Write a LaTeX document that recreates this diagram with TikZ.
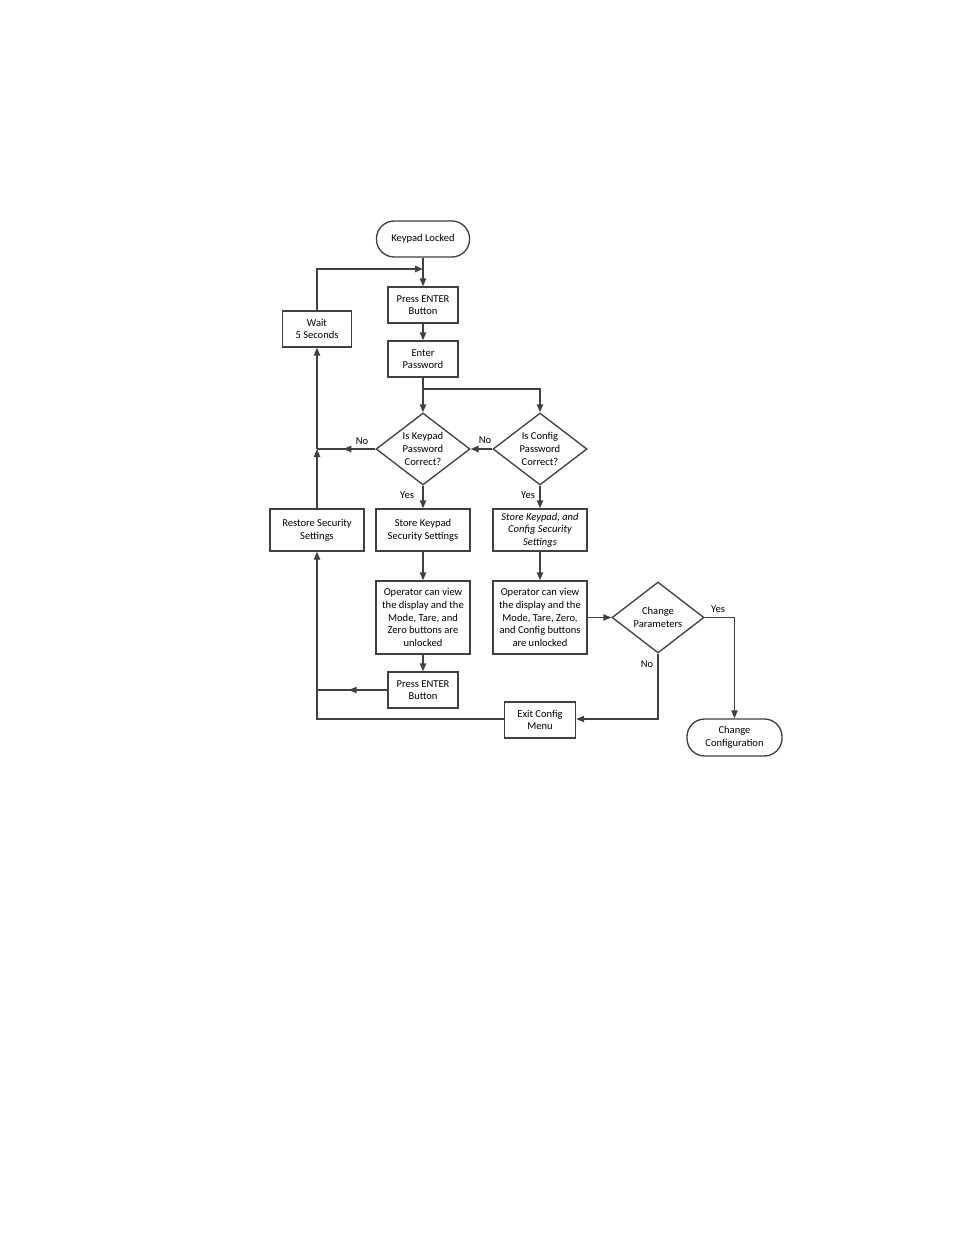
\documentclass[tikz,border=0pt]{standalone}
\usepackage{fontspec}
\setmainfont{Carlito}
\usetikzlibrary{shapes.geometric,arrows.meta,calc,decorations.markings}

\begin{document}
\begin{tikzpicture}[
    x=0.3mm, y=-0.3mm,
    font=\fontsize{9}{10.8}\selectfont,
    >={Triangle[length=2.4mm, width=1.9mm]},
    line/.style={draw=black!75, line width=0.4mm},
    midarrow/.style={line, postaction={decorate}, decoration={markings, mark=at position 0.55 with {\arrow{>}}}},
    term/.style={rectangle, draw=black!75, rounded corners=5.3mm, line width=0.4mm, inner sep=0pt, align=center},
    proc/.style={rectangle, draw=black!75, line width=0.4mm, inner sep=0pt, align=center, minimum width=70*0.3mm, minimum height=36*0.3mm},
    wide/.style={proc, minimum width=94*0.3mm},
    decision/.style={diamond, draw=black!75, line width=0.4mm, inner sep=0pt, align=center, shape aspect=1.3},
    lbl/.style={inner sep=1pt}
]
\useasboundingbox (0,0) rectangle (954,1235);

% Top of the chart
\node[term, minimum width=93*0.3mm, minimum height=36*0.3mm] (locked) at (423,239) {Keypad Locked};
\node[proc] (press1) at (423,305) {Press ENTER\\ Button};
\node[proc] (pwd) at (423,359) {Enter\\ Password};
\node[proc, minimum width=69*0.3mm] (wait) at (317,329) {Wait\\ 5 Seconds};

% Password checks
\node[decision, minimum width=94*0.3mm, minimum height=72*0.3mm] (kpq) at (423,449) {Is Keypad\\ Password\\ Correct?};
\node[decision, minimum width=94*0.3mm, minimum height=72*0.3mm] (cfq) at (540,449) {Is Config\\ Password\\ Correct?};

% Settings row
\node[wide, minimum height=42*0.3mm] (restore) at (317,530) {Restore Security\\ Settings};
\node[wide, minimum height=42*0.3mm] (storekp) at (423,530) {Store Keypad\\ Security Settings};
\node[wide, minimum height=42*0.3mm, font=\fontsize{9}{10.8}\selectfont\itshape] (storecf) at (540,530) {Store Keypad, and\\ Config Security\\ Settings};

% Unlocked states
\node[wide, minimum height=73*0.3mm] (opkp) at (423,617.5) {Operator can view\\ the display and the\\ Mode, Tare, and\\ Zero buttons are\\ unlocked};
\node[wide, minimum height=73*0.3mm] (opcf) at (540,617.5) {Operator can view\\ the display and the\\ Mode, Tare, Zero,\\ and Config buttons\\ are unlocked};
\node[decision, minimum width=92*0.3mm, minimum height=71*0.3mm] (chpq) at (658,617.5) {Change\\ Parameters};

% Bottom row
\node[proc] (press2) at (423,690) {Press ENTER\\ Button};
\node[proc, minimum width=71*0.3mm] (exitcfg) at (540,720) {Exit Config\\ Menu};
\node[term, minimum width=95*0.3mm, minimum height=37*0.3mm] (chcfg) at (734.5,737.5) {Change\\ Configuration};

% Bends of the connectors
\coordinate (split) at (423,389);
\coordinate (loopL) at (317,269);
\coordinate (loopR) at (423,269);
\coordinate (jnNo) at (317,449);
\coordinate (jnPress) at (317,690);
\coordinate (jnExit) at (317,719);

% Labels
\node[lbl] (noKp) at (362,441) {No};
\node[lbl] (noCf) at (485,440) {No};
\node[lbl] (yesKp) at (407,495) {Yes};
\node[lbl] (yesCf) at (528,495) {Yes};
\node[lbl] (yesCh) at (718,609) {Yes};
\node[lbl] (noCh) at (647,664) {No};

% Main line
\draw[line, ->] (locked) -- (press1);
\draw[line, ->] (press1) -- (pwd);
\draw[line, ->] (pwd) -- (kpq);
\draw[line, ->] (split) -| (cfq.north);
\draw[line, ->] (kpq) -- (storekp);
\draw[line, ->] (cfq) -- (storecf);
\draw[line, ->] (storekp) -- (opkp);
\draw[line, ->] (storecf) -- (opcf);
\draw[line, ->] (opkp) -- (press2);
\draw[line, ->] (opcf) -- (chpq);

% Failed checks and the wait loop
\draw[line, ->] (cfq.west) -- (kpq.east);
\draw[midarrow] (kpq.west) -- (jnNo);
\draw[line, ->] (restore.north) -- (jnNo);
\draw[line, ->] (jnNo) -- (wait.south);
\draw[line, ->] (wait.north) -- (loopL) -- (loopR);

% Relock paths
\draw[midarrow] (press2.west) -- (jnPress);
\draw[line, ->] (exitcfg.west |- jnExit) -- (jnExit) -- (restore.south);
\draw[line, ->] (chpq.south) |- (exitcfg.east |- jnExit);
\draw[line, ->] (chpq.east) -| (chcfg.north);

\end{tikzpicture}
\end{document}
